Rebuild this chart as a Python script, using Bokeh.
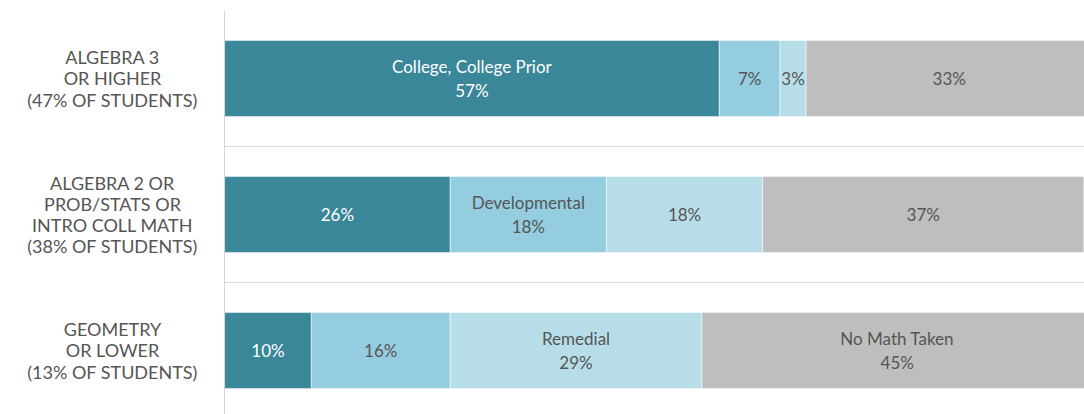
from bokeh.plotting import figure
from bokeh.layouts import row
from bokeh.models import ColumnDataSource, Range1d, Span, FixedTicker
from bokeh.core.properties import value
from bokeh.embed import file_html
from bokeh.resources import INLINE

# ---- data ----
row_labels = ["ALGEBRA 3\nOR HIGHER\n(47% OF STUDENTS)",
              "ALGEBRA 2 OR\nPROB/STATS OR\nINTRO COLL MATH\n(38% OF STUDENTS)",
              "GEOMETRY\nOR LOWER\n(13% OF STUDENTS)"]
series_names = ["College, College Prior", "Developmental", "Remedial", "No Math Taken"]
college = [57, 26, 10]
developmental = [7, 18, 16]
remedial = [3, 18, 29]
no_math = [33, 37, 45]
# which segment of each row carries its series name
named_segments = [[0], [1], [2, 3]]

colors = ["#3A8799", "#94CDDF", "#B7DEE8", "#BEBEBE"]
text_colors = ["#FFFFFF", "#555555", "#555555", "#555555"]
FONT = "Lato"

series = [college, developmental, remedial, no_math]
n_rows = len(row_labels)
row_y = [n_rows - 0.5 - i for i in range(n_rows)]

H = 414
y_range = Range1d(0.0294, 3.0)

# ---- left label panel ----
lp = figure(width=223, height=H, output_backend="svg", toolbar_location=None,
            x_range=Range1d(0, 223), y_range=y_range,
            min_border_left=0, min_border_right=0, min_border_top=10, min_border_bottom=0)
lp.outline_line_color = None
lp.axis.visible = False
lp.grid.visible = False
lsrc0 = ColumnDataSource(dict(x=[112] * n_rows, y=row_y, text=row_labels))
lp.text(x="x", y="y", text="text", source=lsrc0, text_align="center",
        text_baseline="middle", text_font=value(FONT), text_font_size="18px",
        text_color="#555555", text_line_height=0.96)

# ---- bar panel ----
p = figure(width=1084 - 223, height=H, output_backend="svg", toolbar_location=None,
           x_range=Range1d(-0.12, 99.08), y_range=y_range,
           min_border_left=0, min_border_right=0, min_border_top=10, min_border_bottom=0)
p.outline_line_color = None
p.xaxis.visible = False
p.yaxis.visible = False
p.xgrid.visible = False
p.ygrid.ticker = FixedTicker(ticks=[1, 2, 3])
p.ygrid.grid_line_color = "#DDDDDD"
p.ygrid.grid_line_width = 1

p.add_layout(Span(location=0, dimension="height", line_color="#D5D5D5", line_width=1))

cum = [0.0] * n_rows
lx, ly, ltxt, lcol = [], [], [], []
for s, vals in enumerate(series):
    lefts = list(cum)
    rights = [cum[i] + vals[i] for i in range(n_rows)]
    src = ColumnDataSource(dict(y=row_y, left=lefts, right=rights))
    p.hbar(y="y", left="left", right="right", height=0.56, source=src,
           fill_color=colors[s], line_color="white", line_alpha=0.5, line_width=1)
    for i in range(n_rows):
        txt = f"{vals[i]}%"
        if s in named_segments[i]:
            txt = series_names[s] + "\n" + txt
        lx.append((lefts[i] + rights[i]) / 2)
        ly.append(row_y[i])
        ltxt.append(txt)
        lcol.append(text_colors[s])
    cum = rights

lsrc = ColumnDataSource(dict(x=lx, y=ly, text=ltxt, color=lcol))
p.text(x="x", y="y", text="text", source=lsrc, text_color="color",
       text_align="center", text_baseline="middle", text_font=value(FONT),
       text_font_size="17px", text_line_height=1.12)

layout = row(lp, p, spacing=0)
open("out.html", "w").write(file_html(layout, INLINE))
